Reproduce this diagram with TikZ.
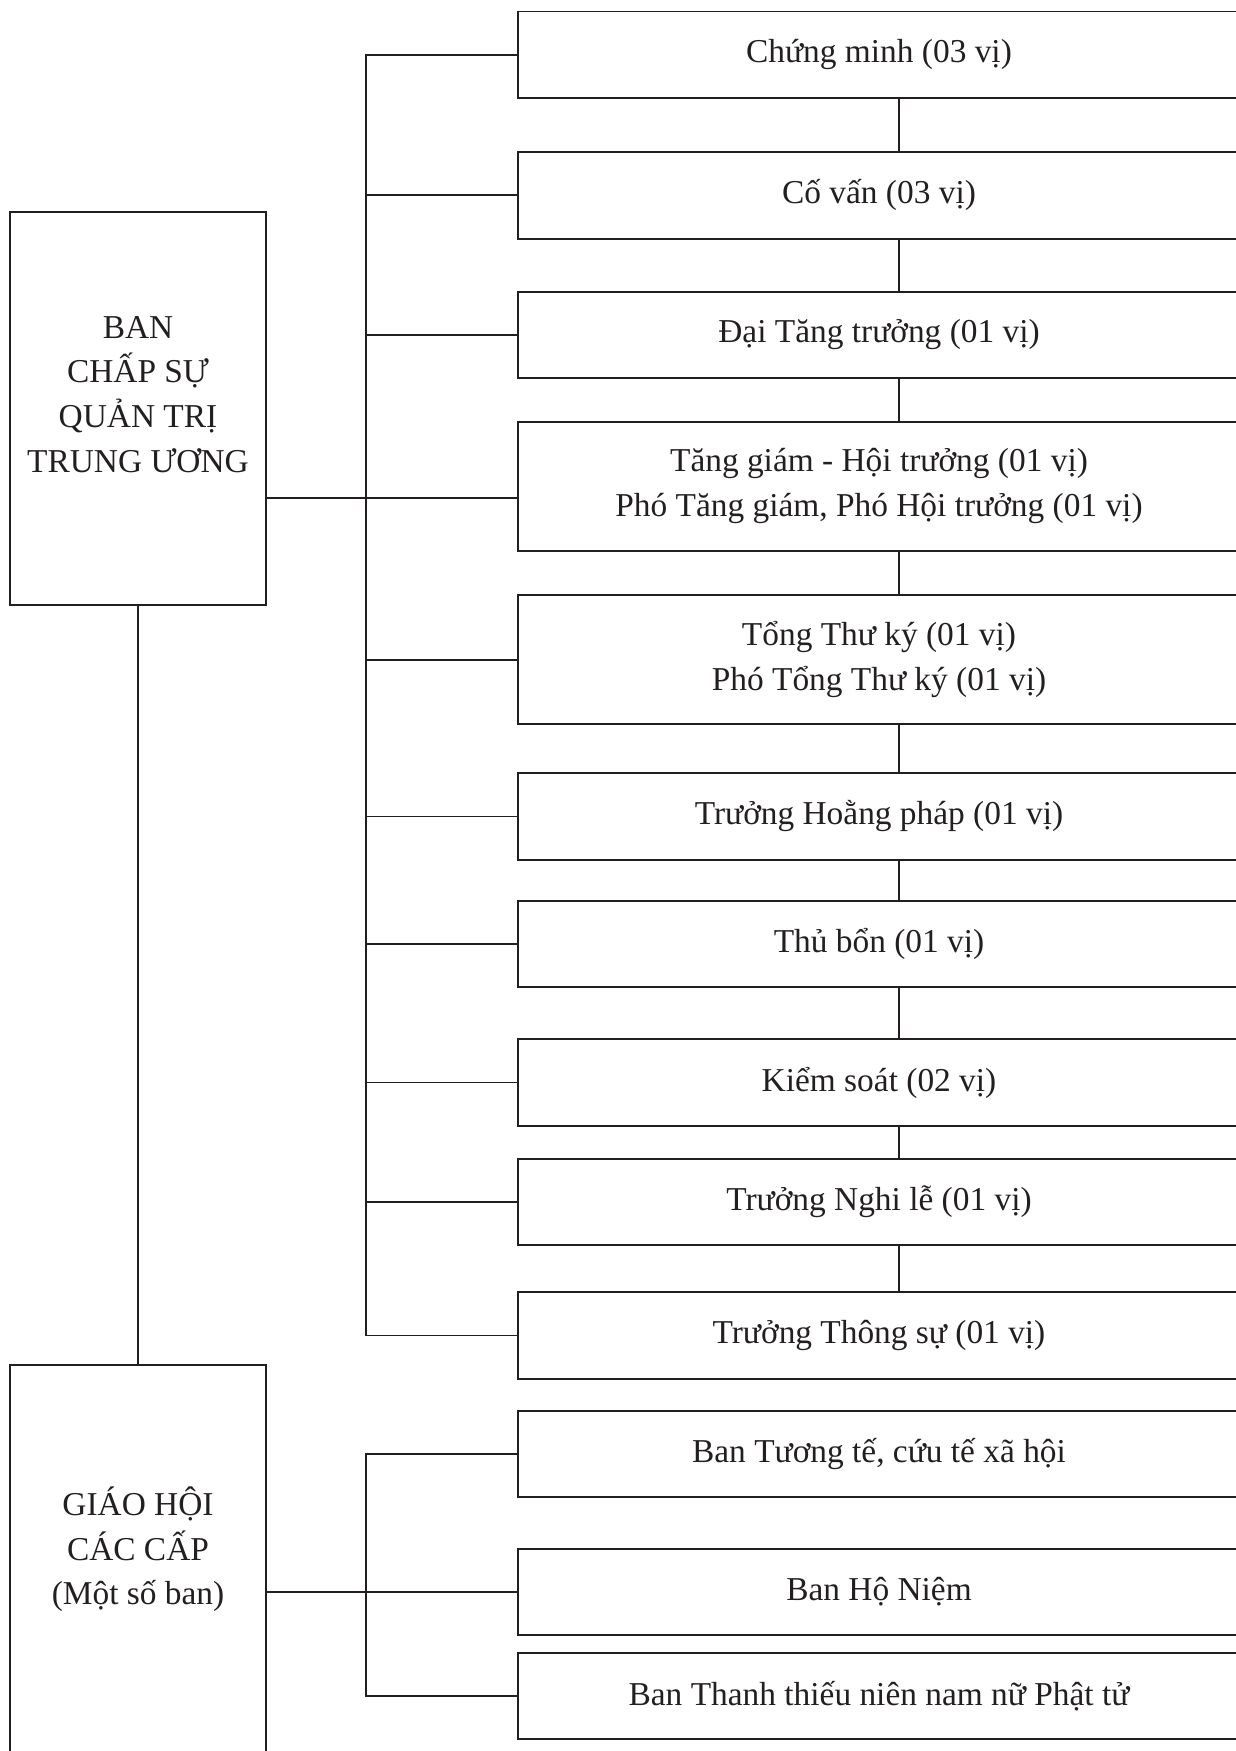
\documentclass[tikz,border=0pt]{standalone}
\usepackage{fontspec}
\setmainfont{Liberation Serif}
\definecolor{ink}{HTML}{231F20}

\begin{document}
\begin{tikzpicture}[color=ink, line width=1.1pt,
  every node/.style={font=\fontsize{19}{25.6}\selectfont},
  leftbox/.style={draw, align=center, anchor=north, minimum width=5.12cm, inner sep=0pt},
  rowbox/.style={draw, align=center, minimum width=14.44cm, minimum height=1.73cm, inner sep=0pt},
  rowboxtwo/.style={rowbox, minimum height=2.58cm}]
\useasboundingbox (0,0) rectangle (24.72,-35.02);
\clip (0,0) rectangle (24.72,-35.02);
% Left column
\node[leftbox, text height=5.22cm, text depth=2.64cm] (cs) at (2.76,-4.22) {BAN\\CHẤP SỰ\\QUẢN TRỊ\\TRUNG ƯƠNG};
\node[leftbox, text height=4.8cm, text depth=4.94cm] (gh) at (2.76,-27.28) {GIÁO HỘI\\CÁC CẤP\\(Một số ban)};
% Right column
\node[rowbox] (r1) at (17.58,-1.095) {Chứng minh (03 vị)};
\node[rowbox] (r2) at (17.58,-3.908) {Cố vấn (03 vị)};
\node[rowbox] (r3) at (17.58,-6.70) {Đại Tăng trưởng (01 vị)};
\node[rowboxtwo] (r4) at (17.58,-9.724) {Tăng giám - Hội trưởng (01 vị)\\Phó Tăng giám, Phó Hội trưởng (01 vị)};
\node[rowboxtwo] (r5) at (17.58,-13.194) {Tổng Thư ký (01 vị)\\Phó Tổng Thư ký (01 vị)};
\node[rowbox] (r6) at (17.58,-16.33) {Trưởng Hoằng pháp (01 vị)};
\node[rowbox] (r7) at (17.58,-18.88) {Thủ bổn (01 vị)};
\node[rowbox] (r8) at (17.58,-21.65) {Kiểm soát (02 vị)};
\node[rowbox] (r9) at (17.58,-24.04) {Trưởng Nghi lễ (01 vị)};
\node[rowbox] (r10) at (17.58,-26.71) {Trưởng Thông sự (01 vị)};
\node[rowbox] (r11) at (17.58,-29.08) {Ban Tương tế, cứu tế xã hội};
\node[rowbox] (r12) at (17.58,-31.84) {Ban Hộ Niệm};
\node[rowbox] (r13) at (17.58,-33.92) {Ban Thanh thiếu niên nam nữ Phật tử};
% Bus lines
\coordinate (bus) at (7.32,0);
\coordinate (spine) at (17.98,0);
\coordinate (tie) at (0,-9.96);
\draw (r1.west) -- (r1.west -| bus) -- (r10.west -| bus) -- (r10.west);
\foreach \i in {2,3,5,6,7,8,9} {
  \draw (r\i.west -| bus) -- (r\i.west);
}
\draw (cs.east |- tie) -- (r4.west |- tie);
\foreach \i in {1,...,9} {
  \pgfmathtruncatemacro{\j}{\i+1}
  \draw (r\i.south -| spine) -- (r\j.north -| spine);
}
\draw (r11.west) -- (r11.west -| bus) -- (r13.west -| bus) -- (r13.west);
\draw (gh.east |- r12.west) -- (r12.west);
\draw (cs.south) -- (gh.north);
\end{tikzpicture}
\end{document}
